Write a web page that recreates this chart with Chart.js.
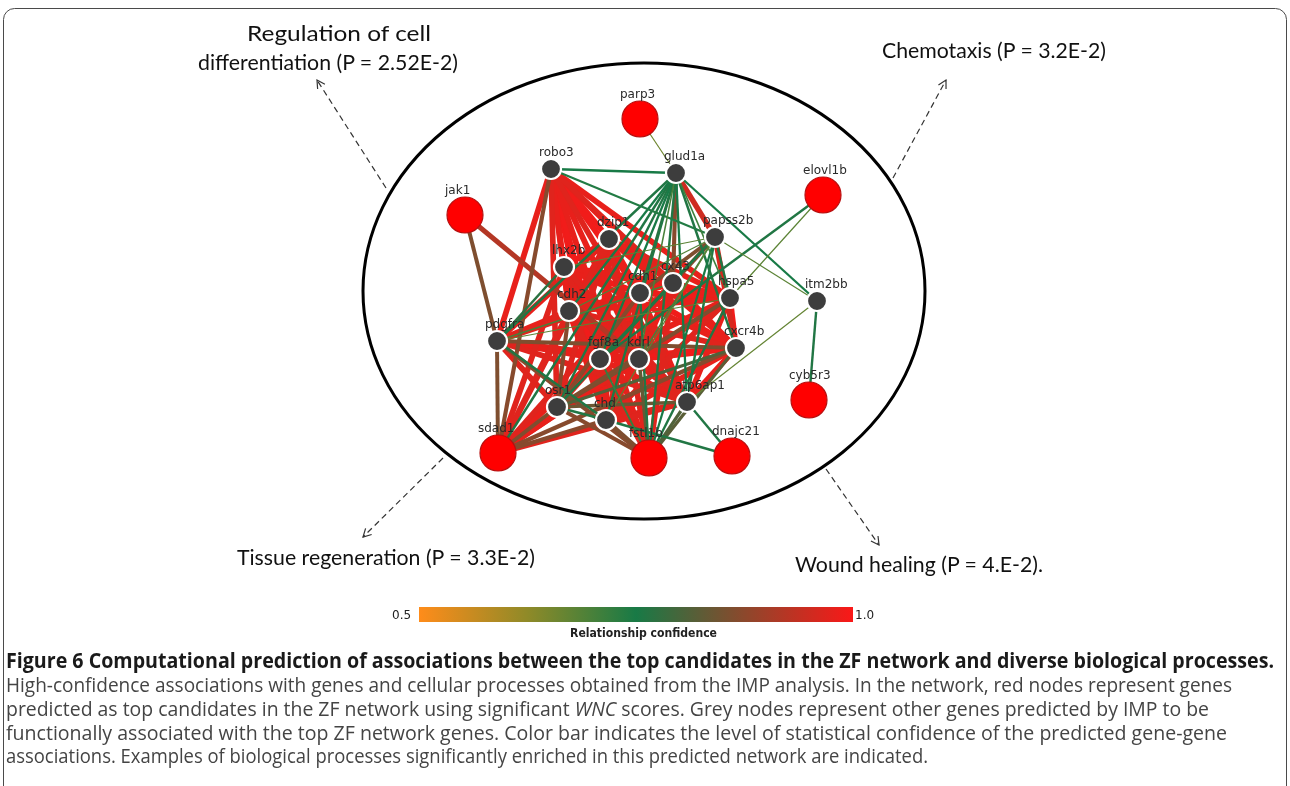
<!DOCTYPE html>
<html>
<head>
<meta charset="utf-8">
<script src="https://cdn.jsdelivr.net/npm/chart.js@4.4.1/dist/chart.umd.min.js"></script>
<style>
  html, body { margin: 0; padding: 0; background: #fff; width: 1290px; height: 786px; overflow: hidden; }
  #wrap { position: relative; width: 1290px; height: 786px; }
  #net { position: absolute; left: 0; top: 0; }
  #overlay { position: absolute; left: 0; top: 0; }
  .proc { font-family: Lato, "Open Sans", sans-serif; font-size: 22px; fill: #111; }
  .cap { font-family: "Liberation Sans Narrow", "Open Sans", sans-serif; font-size: 20.5px; fill: #444; }
  .capb { font-family: "Liberation Sans Narrow", "Open Sans", sans-serif; font-size: 20.5px; font-weight: bold; fill: #1a1a1a; }
  .cb { font-family: "DejaVu Sans", sans-serif; font-size: 12px; fill: #222; }
</style>
</head>
<body>
<div id="wrap">
  <canvas id="net" width="1290" height="600"></canvas>
  <svg id="overlay" width="1290" height="786" xmlns="http://www.w3.org/2000/svg">
    <defs><linearGradient id="confGrad" x1="0" y1="0" x2="1" y2="0"></linearGradient></defs>
    <rect x="3.5" y="8.5" width="1283" height="820" rx="11" ry="11" fill="none" stroke="#4a4a4a" stroke-width="1"/>

    <text class="proc" x="247" y="41" textLength="184" lengthAdjust="spacingAndGlyphs">Regulation of cell</text>
    <text class="proc" x="198" y="70" textLength="260" lengthAdjust="spacingAndGlyphs">differentiation (P = 2.52E-2)</text>
    <text class="proc" x="882" y="58" textLength="224" lengthAdjust="spacingAndGlyphs">Chemotaxis (P = 3.2E-2)</text>
    <text class="proc" x="237" y="565" textLength="298" lengthAdjust="spacingAndGlyphs">Tissue regeneration (P = 3.3E-2)</text>
    <text class="proc" x="795" y="572" textLength="248" lengthAdjust="spacingAndGlyphs">Wound healing (P = 4.E-2).</text>

    <rect id="cbar" x="419" y="607" width="434" height="15" fill="url(#confGrad)"/>
    <text class="cb" x="392" y="619">0.5</text>
    <text class="cb" x="855" y="619">1.0</text>
    <text class="cb" x="570" y="637" font-weight="bold" font-size="11" textLength="147" lengthAdjust="spacingAndGlyphs">Relationship confidence</text>

    <text class="capb" x="6" y="668" textLength="1268" lengthAdjust="spacingAndGlyphs">Figure 6 Computational prediction of associations between the top candidates in the ZF network and diverse biological processes.</text>
    <text class="cap" x="6" y="692" textLength="1226" lengthAdjust="spacingAndGlyphs">High-confidence associations with genes and cellular processes obtained from the IMP analysis. In the network, red nodes represent genes</text>
    <text class="cap" x="6" y="716" textLength="1203" lengthAdjust="spacingAndGlyphs">predicted as top candidates in the ZF network using significant <tspan font-style="italic">WNC</tspan> scores. Grey nodes represent other genes predicted by IMP to be</text>
    <text class="cap" x="6" y="740" textLength="1221" lengthAdjust="spacingAndGlyphs">functionally associated with the top ZF network genes. Color bar indicates the level of statistical confidence of the predicted gene-gene</text>
    <text class="cap" x="6" y="763" textLength="922" lengthAdjust="spacingAndGlyphs">associations. Examples of biological processes significantly enriched in this predicted network are indicated.</text>
  </svg>
</div>

<script>
// Gene nodes: layout position of each gene in the network drawing
const geneNames = ['parp3','robo3','glud1a','elovl1b','jak1','dzip1','papss2b','lhx2b','cx43','cdh1',
                   'hspa5','itm2bb','cdh2','pdgfra','cxcr4b','fgf8a','kdrl','cyb5r3','atp6ap1','osr1',
                   'chd','sdad1','fstl1b','dnajc21'];
const geneX = [640, 551, 676, 823, 465, 609, 715, 564, 673, 640,
               730, 817, 569, 497, 736, 600, 639, 809, 687, 557,
               606, 498, 649, 732];
const geneY = [119, 169, 173, 195, 215, 239, 237, 267, 283, 293,
               298, 301, 311, 341, 348, 359, 359, 400, 402, 407,
               420, 453, 458, 456];
// Top candidates from the ZF network (drawn red); the rest are IMP-predicted genes (grey)
const topCandidates = ['parp3','elovl1b','jak1','cyb5r3','sdad1','fstl1b','dnajc21'];

// Predicted gene-gene associations: [gene A, gene B, relationship confidence]
const edges = [
  ['parp3','glud1a',0.66],
  ['robo3','glud1a',0.75], ['robo3','papss2b',0.74], ['robo3','pdgfra',0.98], ['robo3','sdad1',0.87],
  ['robo3','lhx2b',0.99], ['robo3','dzip1',0.99], ['robo3','cdh2',0.98], ['robo3','cdh1',0.99],
  ['robo3','cx43',0.97], ['robo3','hspa5',0.98], ['robo3','cxcr4b',0.98], ['robo3','fgf8a',0.99],
  ['robo3','kdrl',0.98], ['robo3','osr1',0.97], ['robo3','chd',0.99], ['robo3','atp6ap1',0.97],
  ['robo3','fstl1b',0.98],
  ['glud1a','itm2bb',0.75], ['glud1a','papss2b',0.95], ['glud1a','cx43',0.87], ['glud1a','kdrl',0.70],
  ['glud1a','pdgfra',0.76], ['glud1a','cdh2',0.75], ['glud1a','sdad1',0.76], ['glud1a','osr1',0.76],
  ['glud1a','fgf8a',0.75], ['glud1a','chd',0.76], ['glud1a','cdh1',0.77], ['glud1a','hspa5',0.71],
  ['glud1a','cxcr4b',0.76], ['glud1a','atp6ap1',0.75], ['glud1a','fstl1b',0.76],
  ['jak1','pdgfra',0.86], ['jak1','kdrl',0.92],
  ['elovl1b','fgf8a',0.76], ['elovl1b','hspa5',0.68],
  ['itm2bb','papss2b',0.68], ['itm2bb','cyb5r3',0.76], ['itm2bb','atp6ap1',0.67],
  ['dnajc21','chd',0.76], ['dnajc21','atp6ap1',0.76],
  ['papss2b','cx43',0.87], ['papss2b','cdh1',0.86], ['papss2b','hspa5',0.76], ['papss2b','cxcr4b',0.96],
  ['papss2b','lhx2b',0.68], ['papss2b','cdh2',0.69], ['papss2b','atp6ap1',0.76], ['papss2b','fstl1b',0.75],
  ['papss2b','kdrl',0.70], ['papss2b','osr1',0.76], ['papss2b','fgf8a',0.76], ['papss2b','chd',0.68],
  ['sdad1','pdgfra',0.86], ['sdad1','lhx2b',0.97], ['sdad1','cdh2',0.97], ['sdad1','osr1',0.86],
  ['sdad1','chd',0.87], ['sdad1','fgf8a',0.98], ['sdad1','kdrl',0.98], ['sdad1','cdh1',0.97],
  ['sdad1','cx43',0.98], ['sdad1','atp6ap1',0.97], ['sdad1','cxcr4b',0.87], ['sdad1','hspa5',0.98],
  ['sdad1','dzip1',0.97],
  ['fstl1b','chd',0.86], ['fstl1b','osr1',0.87], ['fstl1b','fgf8a',0.72], ['fstl1b','kdrl',0.83],
  ['fstl1b','atp6ap1',0.81], ['fstl1b','cxcr4b',0.82], ['fstl1b','cdh1',0.76], ['fstl1b','hspa5',0.76],
  ['fstl1b','dzip1',0.97], ['fstl1b','lhx2b',0.97], ['fstl1b','pdgfra',0.87], ['fstl1b','cdh2',0.97],
  ['fstl1b','cx43',0.97],
  ['dzip1','lhx2b',0.99], ['dzip1','cdh1',0.99], ['dzip1','cx43',0.98], ['dzip1','cdh2',0.99],
  ['dzip1','hspa5',0.98], ['dzip1','cxcr4b',0.98], ['dzip1','fgf8a',0.99], ['dzip1','kdrl',0.99],
  ['dzip1','atp6ap1',0.98], ['dzip1','chd',0.98], ['dzip1','osr1',0.97], ['dzip1','pdgfra',0.98],
  ['lhx2b','cdh1',0.99], ['lhx2b','cx43',0.98], ['lhx2b','cdh2',0.98], ['lhx2b','hspa5',0.98],
  ['lhx2b','cxcr4b',0.98], ['lhx2b','fgf8a',0.99], ['lhx2b','kdrl',0.98], ['lhx2b','atp6ap1',0.97],
  ['lhx2b','chd',0.98], ['lhx2b','pdgfra',0.77],
  ['cdh1','cx43',0.99], ['cdh1','cdh2',0.99], ['cdh1','hspa5',0.99], ['cdh1','cxcr4b',0.99],
  ['cdh1','fgf8a',0.99], ['cdh1','kdrl',0.99], ['cdh1','atp6ap1',0.98], ['cdh1','chd',0.98],
  ['cdh1','osr1',0.87], ['cdh1','pdgfra',0.97],
  ['cx43','hspa5',0.99], ['cx43','cdh2',0.98], ['cx43','cxcr4b',0.99], ['cx43','fgf8a',0.99],
  ['cx43','kdrl',0.99], ['cx43','chd',0.98], ['cx43','osr1',0.76], ['cx43','pdgfra',0.70],
  ['hspa5','cdh2',0.98], ['hspa5','cxcr4b',0.99], ['hspa5','fgf8a',0.98], ['hspa5','kdrl',0.99],
  ['hspa5','atp6ap1',0.98], ['hspa5','chd',0.97], ['hspa5','osr1',0.86], ['hspa5','pdgfra',0.68],
  ['cdh2','pdgfra',0.98], ['cdh2','fgf8a',0.99], ['cdh2','kdrl',0.98], ['cdh2','cxcr4b',0.97],
  ['cdh2','osr1',0.87], ['cdh2','chd',0.98], ['cdh2','atp6ap1',0.97],
  ['pdgfra','fgf8a',0.98], ['pdgfra','kdrl',0.98], ['pdgfra','osr1',0.97], ['pdgfra','chd',0.76],
  ['pdgfra','cxcr4b',0.86], ['pdgfra','atp6ap1',0.97],
  ['cxcr4b','fgf8a',0.99], ['cxcr4b','kdrl',0.99], ['cxcr4b','atp6ap1',0.98], ['cxcr4b','osr1',0.81],
  ['cxcr4b','chd',0.98],
  ['fgf8a','kdrl',0.99], ['fgf8a','osr1',0.97], ['fgf8a','chd',0.98], ['fgf8a','atp6ap1',0.98],
  ['kdrl','osr1',0.86], ['kdrl','chd',0.98], ['kdrl','atp6ap1',0.98],
  ['atp6ap1','osr1',0.84], ['atp6ap1','chd',0.97],
  ['osr1','chd',0.76]
];

// Colour scale for relationship confidence (0.5 -> 1.0)
const confidenceStops = [
  [0.5,   '#ff8c1a'],
  [0.625, '#8f8a28'],
  [0.75,  '#187a46'],
  [0.875, '#8c482c'],
  [1.0,   '#fa1818']
];

function hexToRgb(h) {
  const n = parseInt(h.slice(1), 16);
  return [(n >> 16) & 255, (n >> 8) & 255, n & 255];
}
function confidenceColor(c) {
  const s = confidenceStops;
  if (c <= s[0][0]) return s[0][1];
  for (let i = 1; i < s.length; i++) {
    if (c <= s[i][0]) {
      const t = (c - s[i - 1][0]) / (s[i][0] - s[i - 1][0]);
      const a = hexToRgb(s[i - 1][1]), b = hexToRgb(s[i][1]);
      const m = a.map((v, k) => Math.round(v + (b[k] - v) * t));
      return `rgb(${m[0]},${m[1]},${m[2]})`;
    }
  }
  return s[s.length - 1][1];
}
function edgeWidth(c) {
  const t = Math.min(1, Math.max(0, (c - 0.68) / 0.3));
  return 1.2 + 4.6 * t;
}

// Colour bar gradient uses the same stops as the edges
(function buildColorBar() {
  const grad = document.getElementById('confGrad');
  const lo = confidenceStops[0][0], hi = confidenceStops[confidenceStops.length - 1][0];
  confidenceStops.forEach(([v, col]) => {
    const st = document.createElementNS('http://www.w3.org/2000/svg', 'stop');
    st.setAttribute('offset', ((v - lo) / (hi - lo) * 100) + '%');
    st.setAttribute('stop-color', col);
    grad.appendChild(st);
  });
})();

const geneIndex = Object.fromEntries(geneNames.map((g, i) => [g, i]));
const isTop = g => topCandidates.includes(g);
const RED_R = 18, GREY_R = 10;

const edgeDatasets = edges.map(([a, b, c]) => ({
  showLine: true,
  data: [
    { x: geneX[geneIndex[a]], y: geneY[geneIndex[a]] },
    { x: geneX[geneIndex[b]], y: geneY[geneIndex[b]] }
  ],
  borderColor: confidenceColor(c),
  borderWidth: edgeWidth(c),
  pointRadius: 0,
  pointHoverRadius: 0,
  order: 10 + Math.round(c * 100)   // greener (lower confidence) links drawn above the red ones
}));

const topNodes = {
  label: 'top candidates',
  data: geneNames.filter(isTop).map(g => ({ x: geneX[geneIndex[g]], y: geneY[geneIndex[g]] })),
  pointRadius: RED_R, pointHoverRadius: RED_R,
  backgroundColor: '#ff0000', borderColor: '#b81010', borderWidth: 1.2,
  order: 0
};
const greyNodes = {
  label: 'predicted genes',
  data: geneNames.filter(g => !isTop(g)).map(g => ({ x: geneX[geneIndex[g]], y: geneY[geneIndex[g]] })),
  pointRadius: GREY_R, pointHoverRadius: GREY_R,
  backgroundColor: '#3d3d3d', borderColor: '#ffffff', borderWidth: 2.2,
  order: 1
};

// Enclosing ellipse and dashed call-out arrows towards the enriched processes
const ellipseSpec = { cx: 644, cy: 291, rx: 281, ry: 228 };
const callouts = [
  { from: [386, 188], to: [317, 80] },
  { from: [893, 178], to: [946, 80] },
  { from: [443, 458], to: [363, 537] },
  { from: [826, 469], to: [879, 545] }
];

const decorPlugin = {
  id: 'decor',
  beforeDatasetsDraw(chart) {
    const { ctx, scales: { x, y } } = chart;
    ctx.save();
    const cx = x.getPixelForValue(ellipseSpec.cx), cy = y.getPixelForValue(ellipseSpec.cy);
    const rx = Math.abs(x.getPixelForValue(ellipseSpec.cx + ellipseSpec.rx) - cx);
    const ry = Math.abs(y.getPixelForValue(ellipseSpec.cy + ellipseSpec.ry) - cy);
    ctx.beginPath();
    ctx.ellipse(cx, cy, rx, ry, 0, 0, Math.PI * 2);
    ctx.lineWidth = 3;
    ctx.strokeStyle = '#000';
    ctx.stroke();

    ctx.strokeStyle = '#333';
    ctx.lineWidth = 1.2;
    callouts.forEach(({ from, to }) => {
      const x0 = x.getPixelForValue(from[0]), y0 = y.getPixelForValue(from[1]);
      const x1 = x.getPixelForValue(to[0]), y1 = y.getPixelForValue(to[1]);
      ctx.setLineDash([6, 4]);
      ctx.beginPath(); ctx.moveTo(x0, y0); ctx.lineTo(x1, y1); ctx.stroke();
      ctx.setLineDash([]);
      const ang = Math.atan2(y1 - y0, x1 - x0), L = 9, spread = 0.5;
      ctx.beginPath();
      ctx.moveTo(x1 - L * Math.cos(ang - spread), y1 - L * Math.sin(ang - spread));
      ctx.lineTo(x1, y1);
      ctx.lineTo(x1 - L * Math.cos(ang + spread), y1 - L * Math.sin(ang + spread));
      ctx.stroke();
    });
    ctx.restore();
  },
  afterDatasetsDraw(chart) {
    const { ctx, scales: { x, y } } = chart;
    ctx.save();
    ctx.font = '12px "DejaVu Sans", sans-serif';
    ctx.fillStyle = '#2a2a2a';
    ctx.textAlign = 'left';
    ctx.textBaseline = 'alphabetic';
    geneNames.forEach((g, i) => {
      const r = isTop(g) ? RED_R : GREY_R;
      ctx.fillText(g, x.getPixelForValue(geneX[i]) - r - 2, y.getPixelForValue(geneY[i]) - r - 3);
    });
    ctx.restore();
  }
};

new Chart(document.getElementById('net'), {
  type: 'scatter',
  data: { datasets: [topNodes, greyNodes, ...edgeDatasets] },
  options: {
    responsive: false,
    maintainAspectRatio: false,
    animation: false,
    events: [],
    layout: { padding: 0, autoPadding: false },
    plugins: { legend: { display: false }, tooltip: { enabled: false } },
    scales: {
      x: { type: 'linear', min: 0, max: 1290, display: false },
      y: { type: 'linear', min: 0, max: 600, reverse: true, display: false }
    }
  },
  plugins: [decorPlugin]
});
</script>
</body>
</html>
